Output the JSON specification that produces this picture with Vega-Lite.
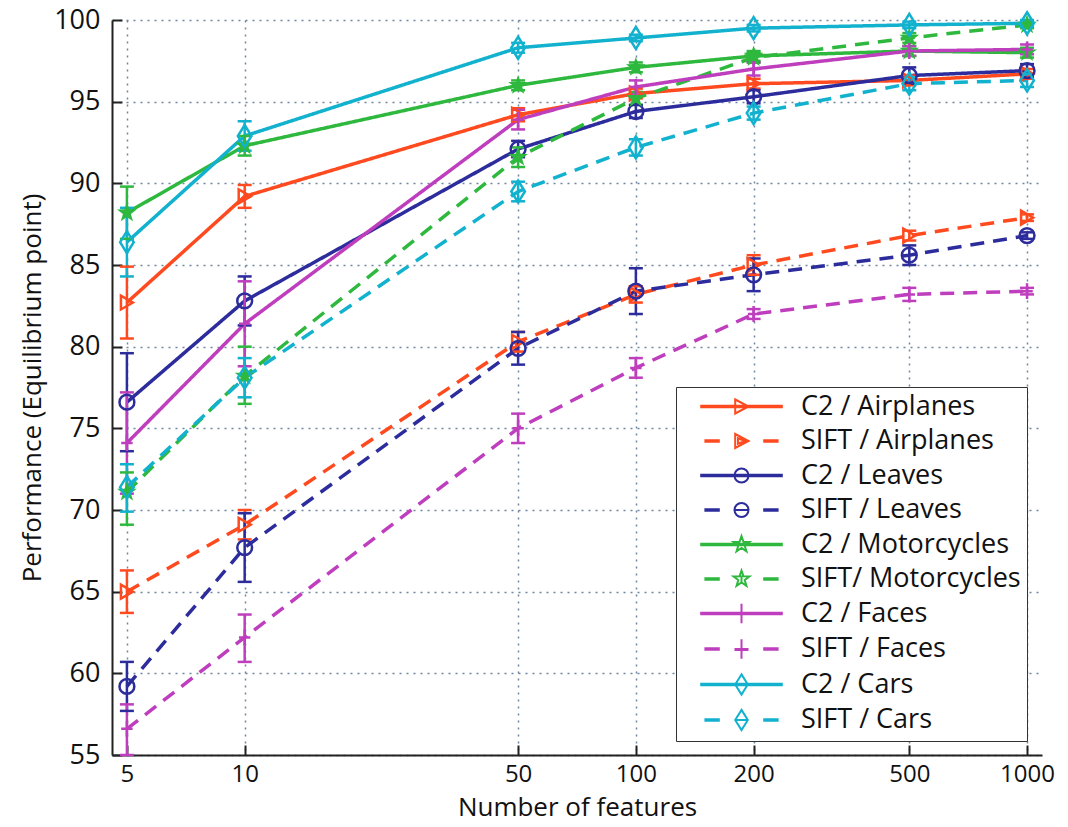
{
  "$schema": "https://vega.github.io/schema/vega-lite/v6.json",
  "width": 930,
  "height": 735,
  "autosize": "none",
  "padding": {"left": 112, "top": 20, "right": 26, "bottom": 72},
  "background": "white",
  "config": {
    "view": {"stroke": null},
    "font": "Open Sans",
    "legend": {
      "titleFontSize": 0,
      "labelFont": "Open Sans",
      "labelFontSize": 27,
      "labelColor": "#111",
      "strokeColor": "#333",
      "fillColor": "white",
      "padding": 6,
      "rowPadding": 6.5,
      "symbolSize": 196,
      "symbolStrokeWidth": 2,
      "symbolOffset": 46,
      "labelOffset": 46,
      "symbolOpacity": 1,
      "labelLimit": 400
    }
  },
  "data": {
    "values": [
      {"s": "C2 / Airplanes", "cat": "Airplanes", "m": "C2", "n": 5, "p": 82.7, "lo": 80.5, "hi": 84.9},
      {"s": "C2 / Airplanes", "cat": "Airplanes", "m": "C2", "n": 10, "p": 89.2, "lo": 88.5, "hi": 89.9},
      {"s": "C2 / Airplanes", "cat": "Airplanes", "m": "C2", "n": 50, "p": 94.2, "lo": 93.8, "hi": 94.6},
      {"s": "C2 / Airplanes", "cat": "Airplanes", "m": "C2", "n": 100, "p": 95.5, "lo": 95.2, "hi": 95.8},
      {"s": "C2 / Airplanes", "cat": "Airplanes", "m": "C2", "n": 200, "p": 96.1, "lo": 95.8, "hi": 96.4},
      {"s": "C2 / Airplanes", "cat": "Airplanes", "m": "C2", "n": 500, "p": 96.3, "lo": 96.0, "hi": 96.6},
      {"s": "C2 / Airplanes", "cat": "Airplanes", "m": "C2", "n": 1000, "p": 96.7, "lo": 96.4, "hi": 97.0},
      {"s": "SIFT / Airplanes", "cat": "Airplanes", "m": "SIFT", "n": 5, "p": 65.0, "lo": 63.7, "hi": 66.3},
      {"s": "SIFT / Airplanes", "cat": "Airplanes", "m": "SIFT", "n": 10, "p": 69.1, "lo": 68.2, "hi": 70.0},
      {"s": "SIFT / Airplanes", "cat": "Airplanes", "m": "SIFT", "n": 50, "p": 80.3, "lo": 79.7, "hi": 80.9},
      {"s": "SIFT / Airplanes", "cat": "Airplanes", "m": "SIFT", "n": 100, "p": 83.2, "lo": 82.7, "hi": 83.7},
      {"s": "SIFT / Airplanes", "cat": "Airplanes", "m": "SIFT", "n": 200, "p": 85.0, "lo": 84.4, "hi": 85.6},
      {"s": "SIFT / Airplanes", "cat": "Airplanes", "m": "SIFT", "n": 500, "p": 86.8, "lo": 86.5, "hi": 87.1},
      {"s": "SIFT / Airplanes", "cat": "Airplanes", "m": "SIFT", "n": 1000, "p": 87.9, "lo": 87.7, "hi": 88.1},
      {"s": "C2 / Leaves", "cat": "Leaves", "m": "C2", "n": 5, "p": 76.6, "lo": 73.6, "hi": 79.6},
      {"s": "C2 / Leaves", "cat": "Leaves", "m": "C2", "n": 10, "p": 82.8, "lo": 81.3, "hi": 84.3},
      {"s": "C2 / Leaves", "cat": "Leaves", "m": "C2", "n": 50, "p": 92.1, "lo": 91.6, "hi": 92.6},
      {"s": "C2 / Leaves", "cat": "Leaves", "m": "C2", "n": 100, "p": 94.4, "lo": 94.0, "hi": 94.8},
      {"s": "C2 / Leaves", "cat": "Leaves", "m": "C2", "n": 200, "p": 95.3, "lo": 94.9, "hi": 95.7},
      {"s": "C2 / Leaves", "cat": "Leaves", "m": "C2", "n": 500, "p": 96.6, "lo": 96.1, "hi": 97.1},
      {"s": "C2 / Leaves", "cat": "Leaves", "m": "C2", "n": 1000, "p": 96.9, "lo": 96.5, "hi": 97.3},
      {"s": "SIFT / Leaves", "cat": "Leaves", "m": "SIFT", "n": 5, "p": 59.2, "lo": 57.7, "hi": 60.7},
      {"s": "SIFT / Leaves", "cat": "Leaves", "m": "SIFT", "n": 10, "p": 67.7, "lo": 65.6, "hi": 69.8},
      {"s": "SIFT / Leaves", "cat": "Leaves", "m": "SIFT", "n": 50, "p": 79.9, "lo": 78.9, "hi": 80.9},
      {"s": "SIFT / Leaves", "cat": "Leaves", "m": "SIFT", "n": 100, "p": 83.4, "lo": 82.0, "hi": 84.8},
      {"s": "SIFT / Leaves", "cat": "Leaves", "m": "SIFT", "n": 200, "p": 84.4, "lo": 83.4, "hi": 85.4},
      {"s": "SIFT / Leaves", "cat": "Leaves", "m": "SIFT", "n": 500, "p": 85.6, "lo": 85.0, "hi": 86.2},
      {"s": "SIFT / Leaves", "cat": "Leaves", "m": "SIFT", "n": 1000, "p": 86.8, "lo": 86.6, "hi": 87.0},
      {"s": "C2 / Motorcycles", "cat": "Motorcycles", "m": "C2", "n": 5, "p": 88.2, "lo": 86.6, "hi": 89.8},
      {"s": "C2 / Motorcycles", "cat": "Motorcycles", "m": "C2", "n": 10, "p": 92.3, "lo": 91.7, "hi": 92.9},
      {"s": "C2 / Motorcycles", "cat": "Motorcycles", "m": "C2", "n": 50, "p": 96.0, "lo": 95.7, "hi": 96.3},
      {"s": "C2 / Motorcycles", "cat": "Motorcycles", "m": "C2", "n": 100, "p": 97.1, "lo": 96.8, "hi": 97.4},
      {"s": "C2 / Motorcycles", "cat": "Motorcycles", "m": "C2", "n": 200, "p": 97.8, "lo": 97.5, "hi": 98.1},
      {"s": "C2 / Motorcycles", "cat": "Motorcycles", "m": "C2", "n": 500, "p": 98.1, "lo": 97.8, "hi": 98.4},
      {"s": "C2 / Motorcycles", "cat": "Motorcycles", "m": "C2", "n": 1000, "p": 98.0, "lo": 97.7, "hi": 98.3},
      {"s": "SIFT/ Motorcycles", "cat": "Motorcycles", "m": "SIFT", "n": 5, "p": 71.1, "lo": 69.1, "hi": 72.3},
      {"s": "SIFT/ Motorcycles", "cat": "Motorcycles", "m": "SIFT", "n": 10, "p": 78.2, "lo": 76.5, "hi": 80.0},
      {"s": "SIFT/ Motorcycles", "cat": "Motorcycles", "m": "SIFT", "n": 50, "p": 91.6, "lo": 91.0, "hi": 92.2},
      {"s": "SIFT/ Motorcycles", "cat": "Motorcycles", "m": "SIFT", "n": 100, "p": 95.2, "lo": 94.8, "hi": 95.6},
      {"s": "SIFT/ Motorcycles", "cat": "Motorcycles", "m": "SIFT", "n": 200, "p": 97.7, "lo": 97.4, "hi": 98.0},
      {"s": "SIFT/ Motorcycles", "cat": "Motorcycles", "m": "SIFT", "n": 500, "p": 98.9, "lo": 98.6, "hi": 99.2},
      {"s": "SIFT/ Motorcycles", "cat": "Motorcycles", "m": "SIFT", "n": 1000, "p": 99.7, "lo": 99.5, "hi": 99.9},
      {"s": "C2 / Faces", "cat": "Faces", "m": "C2", "n": 5, "p": 74.1, "lo": 71.0, "hi": 77.2},
      {"s": "C2 / Faces", "cat": "Faces", "m": "C2", "n": 10, "p": 81.4, "lo": 78.8, "hi": 84.0},
      {"s": "C2 / Faces", "cat": "Faces", "m": "C2", "n": 50, "p": 93.9, "lo": 93.3, "hi": 94.5},
      {"s": "C2 / Faces", "cat": "Faces", "m": "C2", "n": 100, "p": 95.9, "lo": 95.5, "hi": 96.3},
      {"s": "C2 / Faces", "cat": "Faces", "m": "C2", "n": 200, "p": 97.0, "lo": 96.6, "hi": 97.4},
      {"s": "C2 / Faces", "cat": "Faces", "m": "C2", "n": 500, "p": 98.1, "lo": 97.8, "hi": 98.4},
      {"s": "C2 / Faces", "cat": "Faces", "m": "C2", "n": 1000, "p": 98.2, "lo": 97.9, "hi": 98.5},
      {"s": "SIFT / Faces", "cat": "Faces", "m": "SIFT", "n": 5, "p": 56.6, "lo": 55.0, "hi": 58.1},
      {"s": "SIFT / Faces", "cat": "Faces", "m": "SIFT", "n": 10, "p": 62.2, "lo": 60.7, "hi": 63.6},
      {"s": "SIFT / Faces", "cat": "Faces", "m": "SIFT", "n": 50, "p": 75.0, "lo": 74.1, "hi": 75.9},
      {"s": "SIFT / Faces", "cat": "Faces", "m": "SIFT", "n": 100, "p": 78.7, "lo": 78.1, "hi": 79.3},
      {"s": "SIFT / Faces", "cat": "Faces", "m": "SIFT", "n": 200, "p": 82.0, "lo": 81.7, "hi": 82.3},
      {"s": "SIFT / Faces", "cat": "Faces", "m": "SIFT", "n": 500, "p": 83.2, "lo": 82.8, "hi": 83.6},
      {"s": "SIFT / Faces", "cat": "Faces", "m": "SIFT", "n": 1000, "p": 83.4, "lo": 83.2, "hi": 83.6},
      {"s": "C2 / Cars", "cat": "Cars", "m": "C2", "n": 5, "p": 86.4, "lo": 84.3, "hi": 88.5},
      {"s": "C2 / Cars", "cat": "Cars", "m": "C2", "n": 10, "p": 92.9, "lo": 92.0, "hi": 93.8},
      {"s": "C2 / Cars", "cat": "Cars", "m": "C2", "n": 50, "p": 98.3, "lo": 98.0, "hi": 98.6},
      {"s": "C2 / Cars", "cat": "Cars", "m": "C2", "n": 100, "p": 98.9, "lo": 98.7, "hi": 99.1},
      {"s": "C2 / Cars", "cat": "Cars", "m": "C2", "n": 200, "p": 99.5, "lo": 99.3, "hi": 99.7},
      {"s": "C2 / Cars", "cat": "Cars", "m": "C2", "n": 500, "p": 99.7, "lo": 99.5, "hi": 99.9},
      {"s": "C2 / Cars", "cat": "Cars", "m": "C2", "n": 1000, "p": 99.8, "lo": 99.6, "hi": 100.0},
      {"s": "SIFT / Cars", "cat": "Cars", "m": "SIFT", "n": 5, "p": 71.4, "lo": 69.9, "hi": 72.8},
      {"s": "SIFT / Cars", "cat": "Cars", "m": "SIFT", "n": 10, "p": 78.1, "lo": 76.9, "hi": 79.3},
      {"s": "SIFT / Cars", "cat": "Cars", "m": "SIFT", "n": 50, "p": 89.5, "lo": 88.9, "hi": 90.1},
      {"s": "SIFT / Cars", "cat": "Cars", "m": "SIFT", "n": 100, "p": 92.2, "lo": 91.7, "hi": 92.7},
      {"s": "SIFT / Cars", "cat": "Cars", "m": "SIFT", "n": 200, "p": 94.3, "lo": 93.9, "hi": 94.7},
      {"s": "SIFT / Cars", "cat": "Cars", "m": "SIFT", "n": 500, "p": 96.1, "lo": 95.7, "hi": 96.5},
      {"s": "SIFT / Cars", "cat": "Cars", "m": "SIFT", "n": 1000, "p": 96.3, "lo": 95.9, "hi": 96.7}
    ]
  },
  "encoding": {
    "x": {
      "field": "n",
      "type": "quantitative",
      "title": "Number of features",
      "scale": {"type": "log", "domain": [4.58, 1092], "nice": false},
      "axis": {
        "values": [5, 10, 50, 100, 200, 500, 1000],
        "format": "d",
        "labelFontSize": 24,
        "labelColor": "#111",
        "titleFontSize": 26,
        "titleFontWeight": "normal",
        "titleColor": "#111",
        "titlePadding": 8,
        "tickSize": -10,
        "tickWidth": 2,
        "tickColor": "#222",
        "labelPadding": 17,
        "domainColor": "#222",
        "domainWidth": 2,
        "labelFlush": false,
        "grid": true,
        "gridDash": [2, 5],
        "gridColor": "#6f86a0",
        "gridWidth": 1.5
      }
    },
    "y": {
      "field": "p",
      "type": "quantitative",
      "title": "Performance (Equilibrium point)",
      "scale": {"domain": [55, 100], "nice": false, "zero": false},
      "axis": {
        "values": [55, 60, 65, 70, 75, 80, 85, 90, 95, 100],
        "labelFontSize": 27,
        "labelColor": "#111",
        "titleFontSize": 26,
        "titleFontWeight": "normal",
        "titleColor": "#111",
        "titlePadding": 8,
        "tickSize": -10,
        "tickWidth": 2,
        "tickColor": "#222",
        "labelPadding": 22,
        "domainColor": "#222",
        "domainWidth": 2,
        "labelFlush": false,
        "grid": true,
        "gridDash": [2, 5],
        "gridColor": "#6f86a0",
        "gridWidth": 1.5
      }
    }
  },
  "layer": [
    {
      "mark": {"type": "line", "strokeWidth": 3.5},
      "encoding": {
        "color": {"field": "cat", "type": "nominal", "legend": null,
          "scale": {"domain": ["Airplanes", "Leaves", "Motorcycles", "Faces", "Cars"], "range": ["#FF4A1F", "#2C2C9C", "#2EB83E", "#BE3EBE", "#12B2CF"]}},
        "strokeDash": {"field": "m", "type": "nominal", "legend": null,
          "scale": {"domain": ["C2", "SIFT"], "range": [[1, 0], [14, 9]]}},
        "detail": {"field": "s"}
      }
    },
    {
      "mark": {"type": "rule", "strokeWidth": 2.5},
      "encoding": {
        "y": {"field": "lo", "type": "quantitative", "title": "Performance (Equilibrium point)"},
        "y2": {"field": "hi"},
        "color": {"field": "cat", "type": "nominal", "legend": null}
      }
    },
    {
      "mark": {"type": "tick", "orient": "horizontal", "size": 14, "thickness": 2.5, "opacity": 1},
      "encoding": {
        "y": {"field": "lo", "type": "quantitative", "title": "Performance (Equilibrium point)"},
        "color": {"field": "cat", "type": "nominal", "legend": null}
      }
    },
    {
      "mark": {"type": "tick", "orient": "horizontal", "size": 14, "thickness": 2.5, "opacity": 1},
      "encoding": {
        "y": {"field": "hi", "type": "quantitative", "title": "Performance (Equilibrium point)"},
        "color": {"field": "cat", "type": "nominal", "legend": null}
      }
    },
    {
      "transform": [{"filter": {"field": "cat", "equal": "Airplanes"}}],
      "mark": {"type": "point", "shape": "triangle-right", "size": 190, "filled": false, "strokeWidth": 2.5, "opacity": 1},
      "encoding": {"color": {"field": "cat", "type": "nominal", "legend": null}}
    },
    {
      "transform": [{"filter": {"field": "cat", "equal": "Leaves"}}],
      "mark": {"type": "point", "shape": "circle", "size": 220, "filled": false, "strokeWidth": 2.5, "opacity": 1},
      "encoding": {"color": {"field": "cat", "type": "nominal", "legend": null}}
    },
    {
      "transform": [{"filter": {"field": "cat", "equal": "Motorcycles"}}],
      "mark": {"type": "point", "shape": "M0,-1.2 L0.282,-0.388 L1.141,-0.371 L0.457,0.148 L0.705,0.971 L0,0.48 L-0.705,0.971 L-0.457,0.148 L-1.141,-0.371 L-0.282,-0.388 Z", "size": 300, "filled": true, "opacity": 1},
      "encoding": {"color": {"field": "cat", "type": "nominal", "legend": null}}
    },
    {
      "transform": [{"filter": {"field": "cat", "equal": "Faces"}}],
      "mark": {"type": "point", "shape": "M-1,0 L1,0 M0,-1.4 L0,1.4", "size": 130, "filled": false, "strokeWidth": 2.5, "opacity": 1},
      "encoding": {"color": {"field": "cat", "type": "nominal", "legend": null}}
    },
    {
      "transform": [{"filter": {"field": "cat", "equal": "Cars"}}],
      "mark": {"type": "point", "shape": "M0,-1.45 L0.9,0 L0,1.45 L-0.9,0 Z", "size": 230, "filled": false, "strokeWidth": 2.5, "opacity": 1},
      "encoding": {"color": {"field": "cat", "type": "nominal", "legend": null}}
    },
    {
      "mark": {"type": "point", "filled": false, "opacity": 0, "size": 196},
      "encoding": {
        "stroke": {
          "field": "s", "type": "nominal",
          "scale": {
            "domain": ["C2 / Airplanes", "SIFT / Airplanes", "C2 / Leaves", "SIFT / Leaves", "C2 / Motorcycles", "SIFT/ Motorcycles", "C2 / Faces", "SIFT / Faces", "C2 / Cars", "SIFT / Cars"],
            "range": ["#FF4A1F", "#FF4A1F", "#2C2C9C", "#2C2C9C", "#2EB83E", "#2EB83E", "#BE3EBE", "#BE3EBE", "#12B2CF", "#12B2CF"]
          },
          "legend": {"orient": "none", "legendX": 564, "legendY": 367, "title": null}
        },
        "shape": {
          "field": "s", "type": "nominal",
          "scale": {
            "domain": ["C2 / Airplanes", "SIFT / Airplanes", "C2 / Leaves", "SIFT / Leaves", "C2 / Motorcycles", "SIFT/ Motorcycles", "C2 / Faces", "SIFT / Faces", "C2 / Cars", "SIFT / Cars"],
            "range": [
              "M-5.9,-0.1 L5.9,-0.1 M-5.9,0.1 L5.9,0.1 M-0.9,-1 L1,0 L-0.9,1 Z",
              "M-5.3,-0.1 L-3.1,-0.1 M-5.3,0.1 L-3.1,0.1 M3.1,-0.1 L5.3,-0.1 M3.1,0.1 L5.3,0.1 M-0.9,-1 L1,0 L-0.9,1 Z M-0.5,-0.4 L0.5,0 L-0.5,0.4 Z",
              "M-5.9,-0.1 L5.9,-0.1 M-5.9,0.1 L5.9,0.1 M1,0 A1,1 0 1,1 -1,0 A1,1 0 1,1 1,0 Z",
              "M-5.3,-0.1 L-3.1,-0.1 M-5.3,0.1 L-3.1,0.1 M3.1,-0.1 L5.3,-0.1 M3.1,0.1 L5.3,0.1 M1,0 A1,1 0 1,1 -1,0 A1,1 0 1,1 1,0 Z M-1,0 L1,0",
              "M-5.9,-0.1 L5.9,-0.1 M-5.9,0.1 L5.9,0.1 M0,-1.2 L0.282,-0.388 L1.141,-0.371 L0.457,0.148 L0.705,0.971 L0,0.48 L-0.705,0.971 L-0.457,0.148 L-1.141,-0.371 L-0.282,-0.388 Z",
              "M-5.3,-0.1 L-3.1,-0.1 M-5.3,0.1 L-3.1,0.1 M3.1,-0.1 L5.3,-0.1 M3.1,0.1 L5.3,0.1 M0,-1.2 L0.282,-0.388 L1.141,-0.371 L0.457,0.148 L0.705,0.971 L0,0.48 L-0.705,0.971 L-0.457,0.148 L-1.141,-0.371 L-0.282,-0.388 Z M0,-0.5 L0,0.4",
              "M-5.9,-0.1 L5.9,-0.1 M-5.9,0.1 L5.9,0.1 M0,-1.4 L0,1.4",
              "M-5.3,-0.1 L-3.1,-0.1 M-5.3,0.1 L-3.1,0.1 M3.1,-0.1 L5.3,-0.1 M3.1,0.1 L5.3,0.1 M-1,0 L1,0 M0,-1.4 L0,1.4 M-1,0.15 L1,0.15",
              "M-5.9,-0.1 L5.9,-0.1 M-5.9,0.1 L5.9,0.1 M0,-1.45 L0.9,0 L0,1.45 L-0.9,0 Z",
              "M-5.3,-0.1 L-3.1,-0.1 M-5.3,0.1 L-3.1,0.1 M3.1,-0.1 L5.3,-0.1 M3.1,0.1 L5.3,0.1 M0,-1.45 L0.9,0 L0,1.45 L-0.9,0 Z M-0.9,0 L0.9,0"
            ]
          },
          "legend": {"orient": "none", "legendX": 564, "legendY": 367, "title": null}
        }
      }
    }
  ]
}
